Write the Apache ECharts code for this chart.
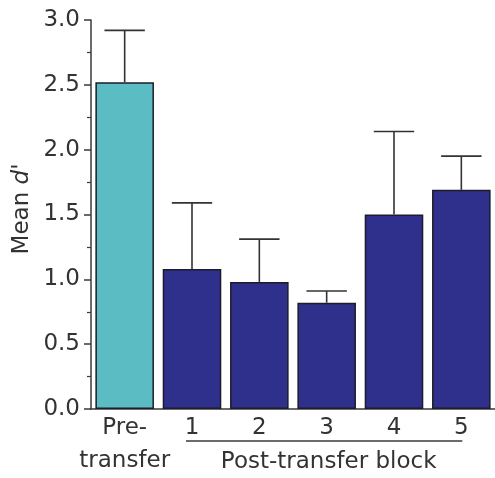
<!DOCTYPE html>
<html>
<head>
<meta charset="utf-8">
<script src="https://cdn.jsdelivr.net/npm/echarts@6/dist/echarts.min.js"></script>
<style>
html,body{margin:0;padding:0;background:#fff;}
#chart{width:495px;height:478px;}
</style>
</head>
<body>
<div id="chart"></div>
<script>
var categories = ['Pre-\ntransfer', '1', '2', '3', '4', '5'];
var means = [2.52, 1.08, 0.98, 0.82, 1.50, 1.69];
var errorTops = [2.92, 1.59, 1.31, 0.91, 2.14, 1.95];
var barColors = ['#5bbcc3', '#2f2f8c', '#2f2f8c', '#2f2f8c', '#2f2f8c', '#2f2f8c'];
var yTicks = [0, 0.5, 1.0, 1.5, 2.0, 2.5, 3.0];
var groupLabel = 'Post-transfer block';
var yTitlePlain = 'Mean ';
var yTitleItalic = 'd';
var yTitlePrime = '\'';

var textColor = '#333';
var font = 'DejaVu Sans';
var fs = 23;
var chart = echarts.init(document.getElementById('chart'));

var option = {
  animation: false,
  backgroundColor: '#fff',
  grid: { left: 91, right: 0, top: 20, bottom: 67, containLabel: false },
  xAxis: {
    type: 'category',
    data: categories,
    axisLine: { show: true, onZero: false, lineStyle: { color: '#3a3a3a', width: 1.5 } },
    axisTick: { show: false },
    axisLabel: { color: textColor, fontFamily: font, fontSize: fs, lineHeight: 33, margin: 3, interval: 0 }
  },
  yAxis: {
    type: 'value',
    min: yTicks[0],
    max: yTicks[yTicks.length - 1],
    interval: 0.5,
    splitLine: { show: false },
    axisLine: { show: true, lineStyle: { color: '#3a3a3a', width: 1.5 } },
    axisTick: { show: true, length: 7, lineStyle: { color: '#3a3a3a', width: 1.5 } },
    minorTick: { show: true, splitNumber: 2, length: 4, lineStyle: { color: '#3a3a3a', width: 1.2 } },
    axisLabel: {
      color: textColor, fontFamily: font, fontSize: fs, margin: 11,
      formatter: function (v) { return v.toFixed(1); }
    }
  },
  series: [
    {
      type: 'bar',
      data: means.map(function (v, i) {
        return { value: v, itemStyle: { color: barColors[i] } };
      }),
      barCategoryGap: '13%',
      itemStyle: { borderColor: '#1c1c2a', borderWidth: 1.5 },
      z: 2
    },
    {
      type: 'custom',
      data: means.map(function (v, i) { return [i, v, errorTops[i]]; }),
      z: 3,
      renderItem: function (params, api) {
        var idx = api.value(0);
        var p0 = api.coord([idx, api.value(1)]);
        var p1 = api.coord([idx, api.value(2)]);
        var half = api.size([1, 0])[0] * 0.3;
        var st = { stroke: '#333', lineWidth: 1.6 };
        return {
          type: 'group',
          children: [
            { type: 'line', shape: { x1: p0[0], y1: p0[1], x2: p1[0], y2: p1[1] }, style: st },
            { type: 'line', shape: { x1: p1[0] - half, y1: p1[1], x2: p1[0] + half, y2: p1[1] }, style: st }
          ]
        };
      }
    }
  ]
};
chart.setOption(option);

var firstPost = chart.convertToPixel({ gridIndex: 0 }, [1, 0]);
var lastPost = chart.convertToPixel({ gridIndex: 0 }, [5, 0]);
var baseY = firstPost[1];
chart.setOption({
  graphic: [
    {
      type: 'line',
      shape: { x1: firstPost[0] - 6, y1: baseY + 32, x2: lastPost[0] + 1, y2: baseY + 32 },
      style: { stroke: '#3a3a3a', lineWidth: 1.5 }
    },
    {
      type: 'text',
      x: (firstPost[0] + lastPost[0]) / 2 + 2,
      y: baseY + 53,
      style: { text: groupLabel, fill: textColor, font: fs + 'px "' + font + '"', textAlign: 'center', textVerticalAlign: 'middle' }
    },
    {
      type: 'text',
      x: 22,
      y: 209,
      rotation: Math.PI / 2,
      style: {
        text: '{n|' + yTitlePlain + '}{i|' + yTitleItalic + '}{n|' + yTitlePrime + '}',
        align: 'center', verticalAlign: 'middle',
        rich: {
          n: { fill: textColor, fontFamily: font, fontSize: fs },
          i: { fill: textColor, fontFamily: font, fontSize: fs, fontStyle: 'italic' }
        }
      }
    }
  ]
});
</script>
</body>
</html>
